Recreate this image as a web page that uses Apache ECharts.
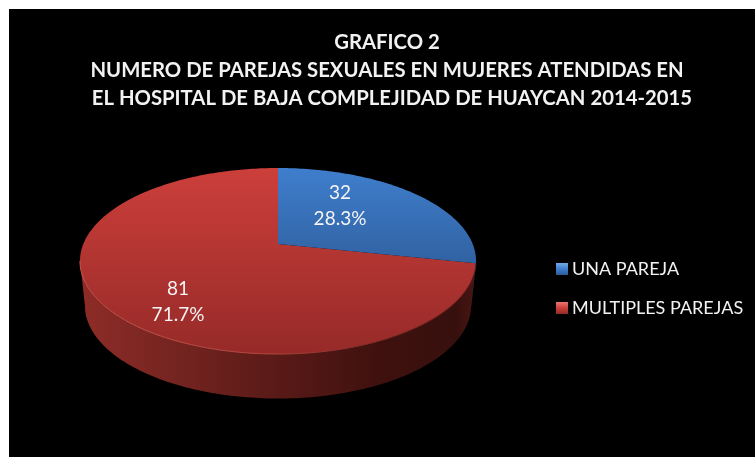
<!DOCTYPE html>
<html>
<head>
<meta charset="utf-8">
<style>
html, body { margin: 0; padding: 0; background: #fff; }
#main { width: 755px; height: 457px; }
</style>
<script src="https://cdn.jsdelivr.net/npm/echarts@6/dist/echarts.min.js"></script>
</head>
<body>
<div id="main"></div>
<script>
const categories = ['UNA PAREJA', 'MULTIPLES PAREJAS'];
const values = [32, 81];
const titleLines = [
  'GRAFICO 2',
  'NUMERO DE PAREJAS SEXUALES EN MUJERES ATENDIDAS EN',
  '  EL HOSPITAL DE BAJA COMPLEJIDAD DE HUAYCAN 2014-2015'
];

const FONT = 'Lato';
const total = values.reduce((a, b) => a + b, 0);

// pie seen in perspective: the circle is mapped onto an ellipse, centre point sits above ellipse centre
const view = { cx: 278, cy: 244, a: 89.9, b: 194.7, k: 0.183, depth: 44.5, narrow: 0.975 };
const labelAt = [[340, 206], [178, 302]];

const faceColors = [
  { top: '#3f7ecd', bottom: '#23487a' },
  { top: '#cc3f3b', bottom: '#962a28' }
];
const wallColors = [
  ['#24466f', '#24466f'],
  null
];

function project(deg) {
  const t = deg * Math.PI / 180;
  const x = Math.sin(t);
  const y = -Math.cos(t);
  const w = 1 - view.k * y;
  return [view.cx + view.b * x / w, view.cy + view.a * y / w];
}

function lower(p) {
  return [view.cx + (p[0] - view.cx) * view.narrow, p[1] + view.depth];
}

function rim(from, to) {
  const pts = [];
  const n = Math.max(2, Math.ceil(Math.abs(to - from)));
  for (let i = 0; i <= n; i++) pts.push(project(from + (to - from) * i / n));
  return pts;
}

function gradient(x, y, x2, y2, stops) {
  return {
    type: 'linear', x: x, y: y, x2: x2, y2: y2, global: true,
    colorStops: stops.map((c, i) => ({ offset: Array.isArray(c) ? c[0] : i / (stops.length - 1), color: Array.isArray(c) ? c[1] : c }))
  };
}

function sliceRange(idx) {
  let sum = 0;
  for (let i = 0; i < idx; i++) sum += values[i];
  return [sum / total * 360, (sum + values[idx]) / total * 360];
}

function makeSlice(idx) {
  return function (params, api) {
    const range = sliceRange(idx);
    const children = [];

    // side wall, only the part turned towards the viewer
    const wallFrom = Math.max(range[0], 100.5);
    const wallTo = Math.min(range[1], 259.5);
    if (wallTo > wallFrom) {
      const topEdge = rim(wallFrom, wallTo);
      const bottomEdge = topEdge.map(lower).reverse();
      const fill = wallColors[idx]
        ? wallColors[idx][0]
        : gradient(80, 0, 476, 0, [[0, '#8e2c27'], [0.25, '#742420'], [0.5, '#591a17'], [0.75, '#3f110e'], [0.95, '#37100d'], [1, '#4a1613']]);
      children.push({
        type: 'polygon',
        shape: { points: topEdge.concat(bottomEdge) },
        style: { fill: fill }
      });
    }

    // top face
    children.push({
      type: 'polygon',
      shape: { points: [[view.cx, view.cy]].concat(rim(range[0], range[1])) },
      style: {
        fill: gradient(0, 168, 0, 354, [faceColors[idx].top, faceColors[idx].bottom])
      }
    });

    // light edge along the front of the face
    if (wallTo > wallFrom && !wallColors[idx]) {
      children.push({
        type: 'polyline',
        shape: { points: rim(wallFrom, wallTo) },
        style: {
          fill: 'none',
          lineWidth: 1,
          stroke: gradient(80, 0, 476, 0, [[0, '#c9574f'], [0.45, '#b8463f'], [0.8, '#7a2623'], [1, '#5a1a17']])
        }
      });
    }

    const pct = (values[idx] / total * 100).toFixed(1) + '%';
    children.push({
      type: 'text',
      x: labelAt[idx][0],
      y: labelAt[idx][1],
      style: {
        text: values[idx] + '\n' + pct,
        fill: '#f4f4f4',
        font: '19px ' + FONT,
        lineHeight: 26,
        align: 'center',
        verticalAlign: 'middle'
      }
    });

    return { type: 'group', children: children };
  };
}

const legendFills = [
  { type: 'linear', x: 0, y: 0, x2: 0, y2: 1, colorStops: [{ offset: 0, color: '#74a8e6' }, { offset: 0.5, color: '#3f7ecd' }, { offset: 1, color: '#2a5a96' }] },
  { type: 'linear', x: 0, y: 0, x2: 0, y2: 1, colorStops: [{ offset: 0, color: '#ea7470' }, { offset: 0.5, color: '#cc3f3b' }, { offset: 1, color: '#8e2a28' }] }
];

const chart = echarts.init(document.getElementById('main'));
chart.setOption({
  animation: false,
  backgroundColor: '#fff',
  graphic: [{
    type: 'rect', z: -10,
    shape: { x: 9, y: 9, width: 746, height: 448 },
    style: { fill: '#000' },
    silent: true
  }],
  title: {
    text: titleLines.join('\n'),
    left: 382,
    top: 23,
    textAlign: 'center',
    textStyle: { color: '#f2f2f2', fontFamily: FONT, fontWeight: 'bold', fontSize: 20.3, lineHeight: 28 }
  },
  legend: {
    orient: 'vertical',
    left: 551,
    top: 255,
    itemWidth: 12,
    itemHeight: 12,
    itemGap: 21,
    icon: 'rect',
    selectedMode: false,
    textStyle: { color: '#f2f2f2', fontFamily: FONT, fontSize: 18, padding: [0, 0, 0, -1] },
    data: categories.map((name, i) => ({ name: name, itemStyle: { color: legendFills[i] } }))
  },
  // red first so the blue slice sits on top of the seam
  series: [1, 0].map(i => ({
    type: 'custom',
    name: categories[i],
    coordinateSystem: 'none',
    renderItem: makeSlice(i),
    itemStyle: { color: faceColors[i].top },
    data: [values[i]]
  }))
});
</script>
</body>
</html>
